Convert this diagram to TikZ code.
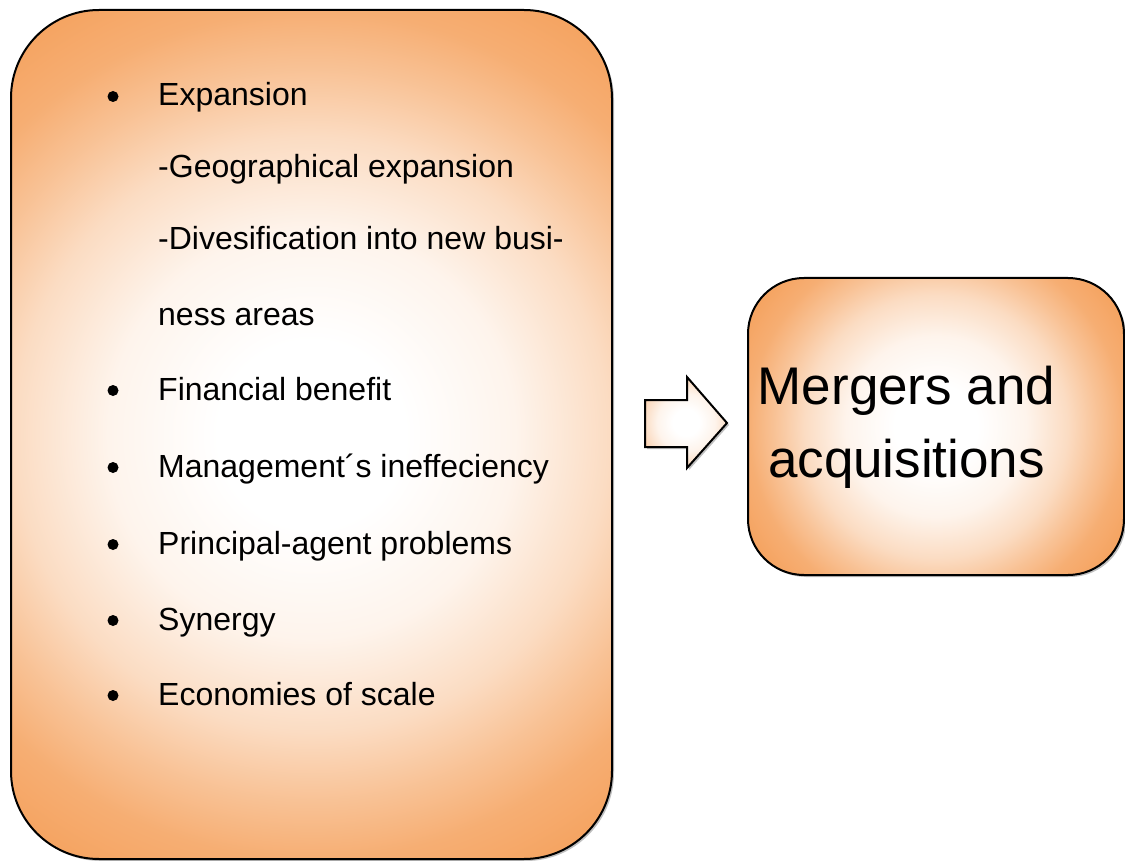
\documentclass[tikz,border=0pt]{standalone}
\usepackage{fontspec}
\setmainfont{Liberation Sans}
\usetikzlibrary{shadows}

\definecolor{peach}{RGB}{245,163,96}
% round white-to-orange glow; 25bp is the half-side of the square it is painted on
\pgfdeclareradialshading{softorange}{\pgfpoint{0bp}{0bp}}{%
  color(0bp)=(white); color(5.5bp)=(white);
  color(12bp)=(peach!12!white); color(17.5bp)=(peach!38!white);
  color(21.5bp)=(peach!66!white); color(25bp)=(peach!88!white);
  color(29bp)=(peach); color(36bp)=(peach)}

\tikzset{
  box/.style={draw=black, line width=2pt,
    drop shadow={shadow xshift=2pt, shadow yshift=-2pt, opacity=0.25, fill=black},
    path picture={\shade[shading=softorange]
      (path picture bounding box.center) ++(-#1,-#1) rectangle ++(2*#1,2*#1);}},
  item/.style={anchor=base west, inner sep=0pt, font=\fontsize{32}{38}\selectfont},
  big/.style={anchor=base, inner sep=0pt, font=\fontsize{53}{64}\selectfont},
  dot/.style={fill=black}
}

\begin{document}
\begin{tikzpicture}[x=1pt, y=-1pt]
  \useasboundingbox (0,0) rectangle (1125,861);

  % motives box
  \node[box=424.5, minimum width=601pt, minimum height=849pt, rounded corners=88pt]
    (motives) at (311.5,434.5) {};

  % result box
  \node[box=188, minimum width=376pt, minimum height=297pt, rounded corners=56pt]
    (result) at (936,426.5) {};

  % block arrow between the two boxes
  \path[box=60] (645,400) -- (687,400) -- (687,377) -- (727,423)
    -- (687,468) -- (687,447) -- (645,447) -- cycle;

  % list of motives
  \node[item] (l1) at (158,106) {Expansion};
  \node[item] (l2) at (158,178) {-Geographical expansion};
  \node[item] (l3) at (158,250) {-Divesification into new busi-};
  \node[item] (l4) at (158,325) {ness areas};
  \node[item] (l5) at (158,400) {Financial benefit};
  \node[item] (l6) at (158,477) {Management´s ineffeciency};
  \node[item] (l7) at (158,554) {Principal-agent problems};
  \node[item] (l8) at (158,630) {Synergy};
  \node[item] (l9) at (158,705) {Economies of scale};

  \foreach \yy in {106,400,477,554,630,705}
    \fill[dot] (113,\yy-9.5) circle (5.5pt);

  % result text
  \node[big] (r1) at (906.5,404) {Mergers and};
  \node[big] (r2) at (906.5,477) {acquisitions};
\end{tikzpicture}
\end{document}
